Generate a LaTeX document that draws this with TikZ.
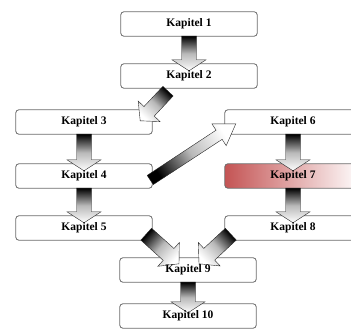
\documentclass[tikz,border=0pt]{standalone}
\usepackage{fontspec}
\setmainfont{Liberation Serif}
\usetikzlibrary{calc}
\pgfdeclarelayer{kasten}
\pgfdeclarelayer{pfeile}
\pgfsetlayers{kasten,pfeile,main}
\definecolor{kapitelrot}{RGB}{196,84,84}
\tikzset{
  kapitel/.style={minimum width=136pt,minimum height=24pt,inner sep=0pt,font=\bfseries\fontsize{11.5}{12}\selectfont},
  kastenlinie/.style={draw=gray!85!black,line width=0.8pt,rounded corners=3pt},
  kastenrand/.style={kastenlinie,fill=white},
  pfeil/.style={draw=gray!30!black,line width=0.4pt,top color=black,bottom color=white,middle color=gray!55}
}
% block arrow: tail, tip, half shaft width, half head width, head length
\newcommand{\blockpfeil}[5]{%
  \path (#1) coordinate (pfa) (#2) coordinate (pfb);
  \pgfmathanglebetweenpoints{\pgfpointanchor{pfa}{center}}{\pgfpointanchor{pfb}{center}}%
  \pgfmathsetmacro\pfschatten{\pgfmathresult+90}%
  \coordinate (pfn) at ($(pfb)!#5!(pfa)$);
  \shade[pfeil,shading angle=\pfschatten]
    ($(pfa)!#3!90:(pfb)$) -- ($(pfn)!#3!90:(pfb)$) -- ($(pfn)!#4!90:(pfb)$) -- (pfb)
    -- ($(pfn)!#4!-90:(pfb)$) -- ($(pfn)!#3!-90:(pfb)$) -- ($(pfa)!#3!-90:(pfb)$) -- cycle;
}
\begin{document}
\begin{tikzpicture}[x=1pt,y=1pt]
	\useasboundingbox (0,0) rectangle (351,-331);
	\clip (0,0) rectangle (351,-331);

	% Chapter nodes
	\foreach \n/\x/\y in {1/189/24,2/189/76,3/84/122,4/84/176,5/84/228,6/293/122,7/293/176,8/293/228,9/188/270,10/188/316}
		\node[kapitel] (k\n) at (\x,-\y) {Kapitel \n};

	% Boxes behind the text
	\begin{pgfonlayer}{kasten}
		\foreach \n in {1,2,3,4,5,6,8,9,10}
			\draw[kastenrand] (k\n.south west) rectangle (k\n.north east);
		\shade[kastenlinie,left color=kapitelrot,right color=white] (k7.south west) rectangle (k7.north east);
	\end{pgfonlayer}

	% Arrows between the chapters
	\begin{pgfonlayer}{pfeile}
		\blockpfeil{k1.south}{$(k2.north)+(0,-7)$}{7.5pt}{17pt}{11pt}
		\blockpfeil{$(k2.south)+(-21,-3)$}{$(k3.north east)+(-12,-11)$}{7pt}{15pt}{13pt}
		\blockpfeil{k3.south}{$(k4.north)+(0,-7)$}{7.5pt}{17pt}{11pt}
		\blockpfeil{k4.south}{$(k5.north)+(0,-7)$}{7.5pt}{17pt}{11pt}
		\blockpfeil{$(k4.east)+(-2,-4)$}{$(k6.north west)+(11,-14)$}{5.5pt}{13pt}{20pt}
		\blockpfeil{k6.south}{$(k7.north)+(0,-7)$}{7.5pt}{17pt}{11pt}
		\blockpfeil{k7.south}{$(k8.north)+(0,-7)$}{7.5pt}{17pt}{11pt}
		\blockpfeil{$(k5.south east)+(-6,6)$}{$(k9.north)+(-9,-6)$}{8pt}{16pt}{14pt}
		\blockpfeil{$(k8.south west)+(6,6)$}{$(k9.north)+(11,-6)$}{8pt}{16pt}{14pt}
		\blockpfeil{k9.south}{$(k10.north)+(0,-9)$}{7.5pt}{17pt}{11pt}
	\end{pgfonlayer}
\end{tikzpicture}
\end{document}
